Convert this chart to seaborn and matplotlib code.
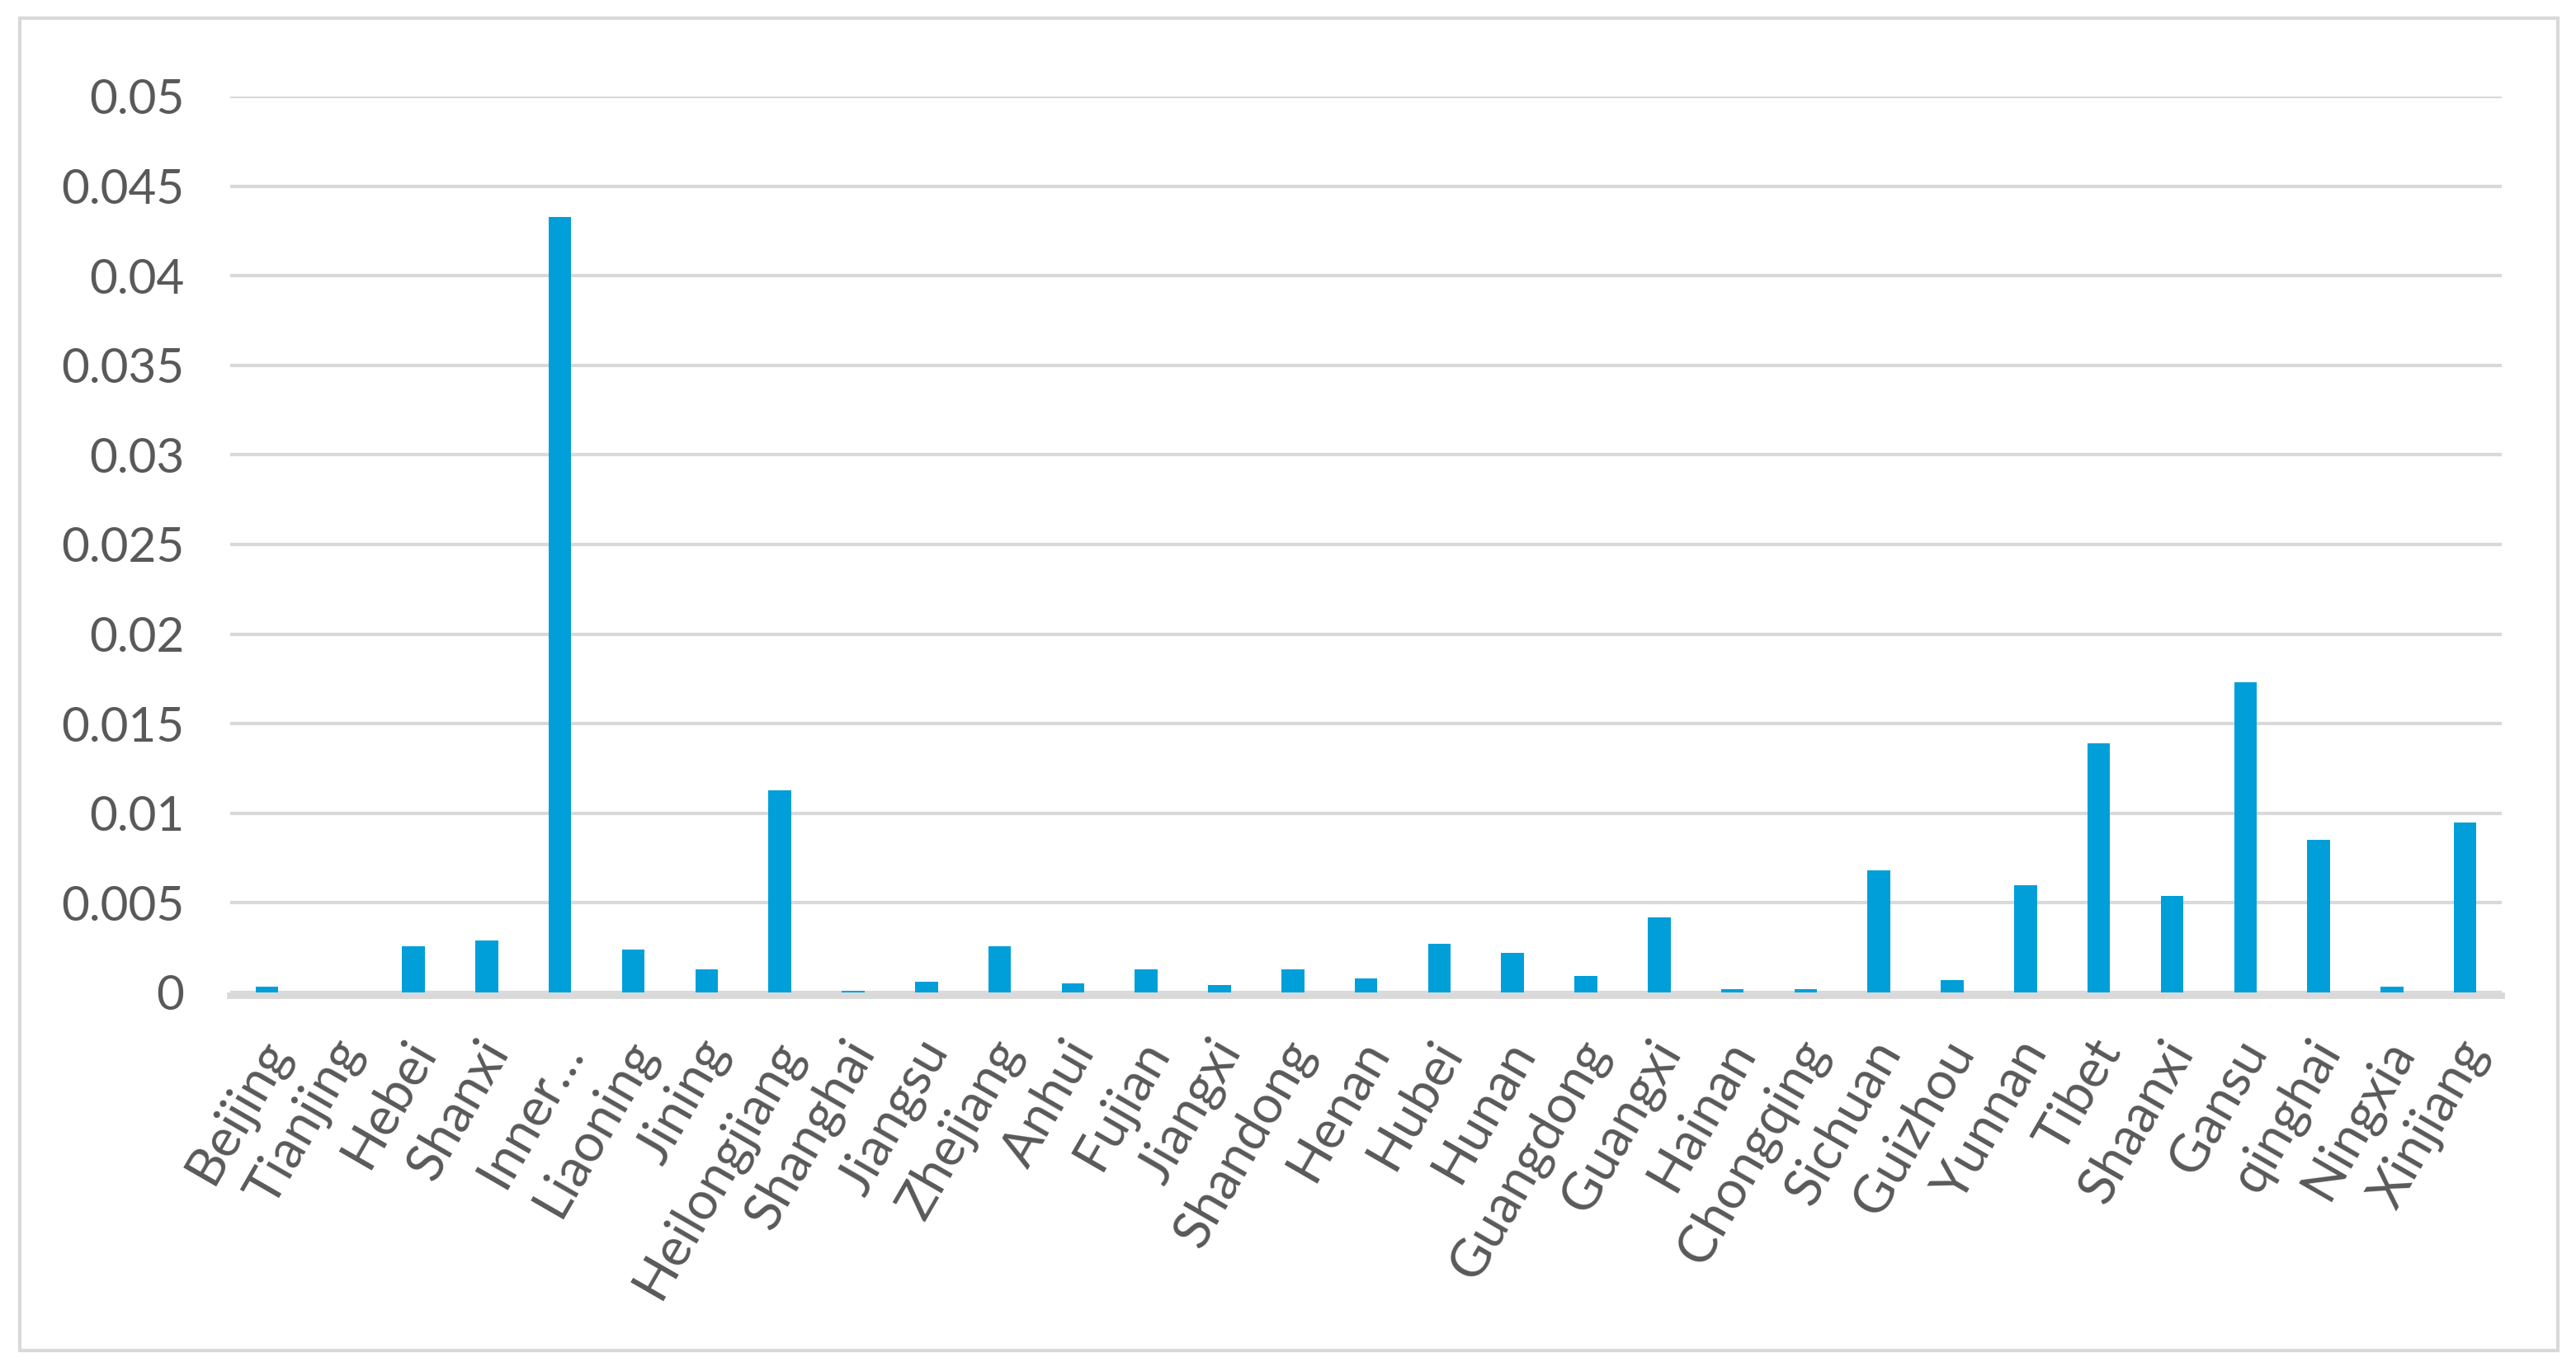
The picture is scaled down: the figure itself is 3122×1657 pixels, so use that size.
import matplotlib
matplotlib.use("Agg")
import matplotlib.pyplot as plt
from matplotlib.patches import Rectangle
from matplotlib.ticker import FuncFormatter, MultipleLocator
from matplotlib.transforms import ScaledTranslation
import seaborn as sns
import pandas as pd

# provinces and values
provinces = ['Beijing', 'Tianjing', 'Hebei', 'Shanxi', 'Inner…', 'Liaoning', 'Jining',
             'Heilongjiang', 'Shanghai', 'Jiangsu', 'Zhejiang', 'Anhui', 'Fujian', 'Jiangxi',
             'Shandong', 'Henan', 'Hubei', 'Hunan', 'Guangdong', 'Guangxi', 'Hainan',
             'Chongqing', 'Sichuan', 'Guizhou', 'Yunnan', 'Tibet', 'Shaanxi', 'Gansu',
             'qinghai', 'Ningxia', 'Xinjiang']
values = [0.0003, 0.0, 0.0026, 0.0029, 0.0433, 0.0024, 0.0013,
          0.0113, 0.0001, 0.0006, 0.0026, 0.0005, 0.0013, 0.0004,
          0.0013, 0.0008, 0.0027, 0.0022, 0.0009, 0.0042, 0.0002,
          0.0002, 0.0068, 0.0007, 0.0060, 0.0139, 0.0054, 0.0173,
          0.0085, 0.0003, 0.0095]

df = pd.DataFrame({'province': provinces, 'value': values})

sns.set_style('white')
plt.rcParams['font.family'] = ['Lato', 'DejaVu Sans']

fig = plt.figure(figsize=(15.61, 8.285), dpi=200)
ax = fig.add_axes([0.0894, 0.274, 0.8818, 0.6554])

sns.barplot(data=df, x='province', y='value', color='#009FD9', saturation=1,
            width=0.31, linewidth=0, ax=ax, zorder=3)

ax.set_ylim(0, 0.05)
ax.set_xlim(-0.5, len(provinces) - 0.5)
ax.yaxis.set_major_locator(MultipleLocator(0.005))
ax.yaxis.set_major_formatter(FuncFormatter(lambda v, p: f'{v:.3f}'.rstrip('0').rstrip('.') if v else '0'))
ax.grid(axis='y', color='#D9D9D9', lw=1.5, zorder=0)
ax.set_axisbelow(True)

for s in ['top', 'right', 'left']:
    ax.spines[s].set_visible(False)
# axis line sits just below zero, like the original
ax.spines['bottom'].set_color('#D9D9D9')
ax.spines['bottom'].set_linewidth(2.8)
ax.spines['bottom'].set_position(('outward', 1.4))

ax.tick_params(axis='y', length=0, pad=20, labelsize=21, labelcolor='#595959')
ax.tick_params(axis='x', length=0, pad=21, labelsize=23, labelcolor='#595959')
shift = ScaledTranslation(0.06, 0, fig.dpi_scale_trans)
for lab in ax.get_xticklabels():
    lab.set_rotation(60)
    lab.set_ha('right')
    lab.set_va('center')
    lab.set_rotation_mode('anchor')
    lab.set_transform(lab.get_transform() + shift)
ax.set_xlabel('')
ax.set_ylabel('')

# outer chart border
fig.patches.append(Rectangle((24 / 3122, 20 / 1657), 3076 / 3122, 1615 / 1657,
                             transform=fig.transFigure, fill=False,
                             edgecolor='#D9D9D9', lw=1.5))

fig.savefig('out.png', dpi=200)
